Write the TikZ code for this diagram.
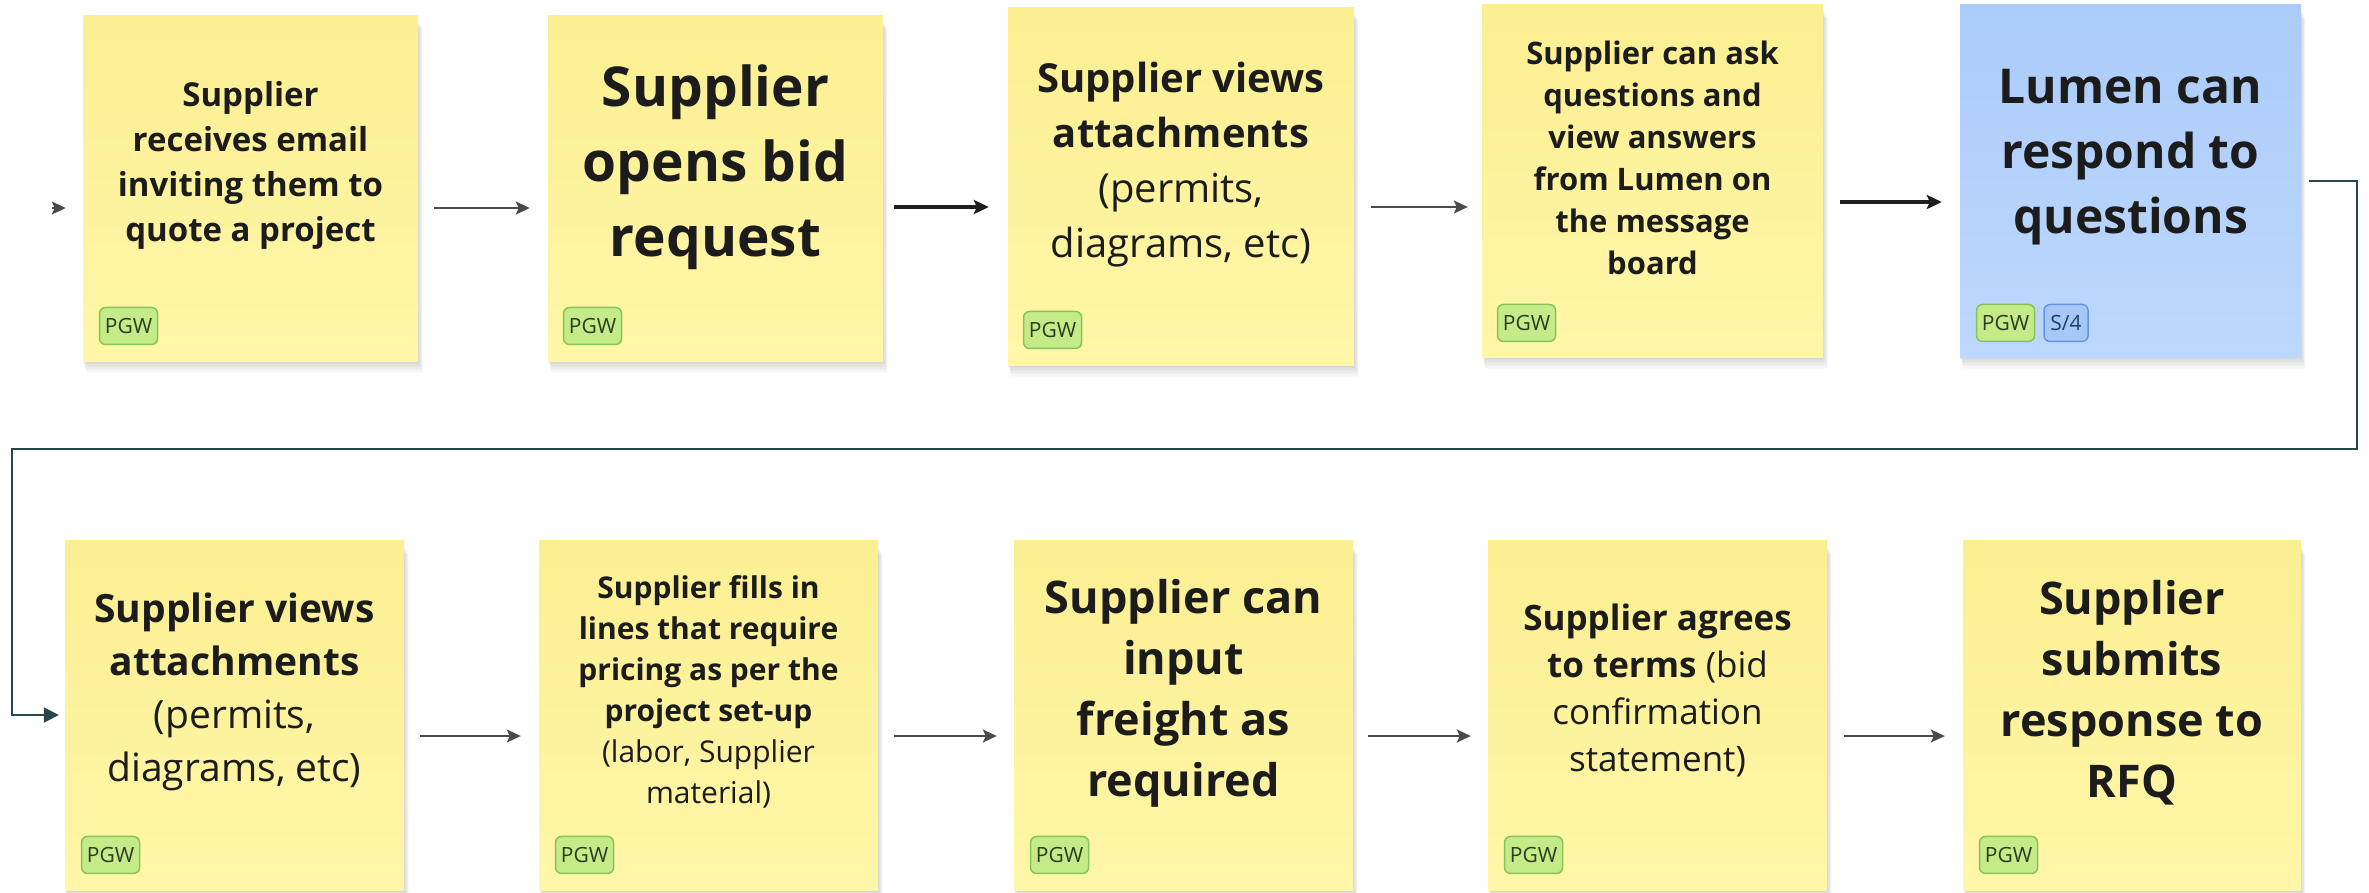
\documentclass[tikz,border=0pt]{standalone}
\usepackage{fontspec}
\setmainfont{Open Sans}
\usetikzlibrary{arrows.meta,calc}

\pgfdeclarelayer{background}
\pgfsetlayers{background,main}

\definecolor{stickyTop}{HTML}{FBEF92}
\definecolor{stickyBot}{HTML}{FFF6A8}
\definecolor{blueTop}{HTML}{ABCBF9}
\definecolor{blueBot}{HTML}{BDD8FD}
\definecolor{tagGreen}{HTML}{C4EB88}
\definecolor{tagGreenLine}{HTML}{86C45A}
\definecolor{tagGreenInk}{HTML}{2E3B22}
\definecolor{tagBlue}{HTML}{A7C8F7}
\definecolor{tagBlueLine}{HTML}{6396E2}
\definecolor{tagBlueInk}{HTML}{1E3C74}
\definecolor{ink}{HTML}{1C1C1C}
\definecolor{arrowGray}{HTML}{4A4A4A}
\definecolor{arrowDark}{HTML}{1E1E1E}
\definecolor{loopTeal}{HTML}{27464A}

\tikzset{
  sticky/.style={rectangle, inner sep=0pt, top color=stickyTop, bottom color=stickyBot},
  bluesticky/.style={sticky, top color=blueTop, bottom color=blueBot},
  softshadow/.style={fill=black, opacity=0.018},
  notetext/.style={align=center, text=ink, inner sep=0pt},
  tagbox/.style={rectangle, rounded corners=6pt, minimum height=37pt, inner sep=0pt,
    line width=1.5pt, font=\fontsize{21}{21}\selectfont, anchor=south west},
  greentag/.style={tagbox, minimum width=58pt, fill=tagGreen, draw=tagGreenLine, text=tagGreenInk},
  bluetag/.style={tagbox, minimum width=44pt, fill=tagBlue, draw=tagBlueLine, text=tagBlueInk},
  arr/.style={draw=arrowGray, line width=2pt, -{Stealth[length=14pt,width=13pt,inset=3pt]}},
  boldarr/.style={draw=arrowDark, line width=3.2pt, -{Stealth[length=15pt,width=14pt,inset=3pt]}},
  looparr/.style={draw=loopTeal, line width=2pt, -{Triangle[length=15pt,width=15pt]}}
}

\begin{document}
\begin{tikzpicture}[x=1pt,y=-1pt]
\useasboundingbox (0,0) rectangle (2369,892);
\begin{pgfonlayer}{background}
  \fill[white] (0,0) rectangle (2369,892);
\end{pgfonlayer}

% ---- top row of sticky notes ----
\node[sticky, minimum width=335pt, minimum height=346pt] (n1) at (250.5,188) {};
\node[sticky, minimum width=335pt, minimum height=346pt] (n2) at (715.5,188) {};
\node[sticky, minimum width=346pt, minimum height=358pt] (n3) at (1181,186) {};
\node[sticky, minimum width=341pt, minimum height=353pt] (n4) at (1652.5,180.5) {};
\node[bluesticky, minimum width=341pt, minimum height=353pt] (n5) at (2130.5,180.5) {};

% ---- bottom row of sticky notes ----
\node[sticky, minimum width=339pt, minimum height=350pt] (n6) at (234.5,715) {};
\node[sticky, minimum width=339pt, minimum height=350pt] (n7) at (708.5,715) {};
\node[sticky, minimum width=339pt, minimum height=350pt] (n8) at (1183.5,715) {};
\node[sticky, minimum width=339pt, minimum height=350pt] (n9) at (1657.5,715) {};
\node[sticky, minimum width=338pt, minimum height=350pt] (n10) at (2132,715) {};

% soft drop shadows under every note, built from stacked translucent layers
\begin{pgfonlayer}{background}
  \foreach \n in {n1,n2,n3,n4,n5,n6,n7,n8,n9,n10} {
    \foreach \k in {1,...,8} {
      \fill[softshadow] ($(\n.north west)+(\k*0.4,6+\k)$) rectangle ($(\n.south east)+(\k*0.6,\k*1.5)$);
    }
  }
\end{pgfonlayer}

% ---- note texts ----
\node[notetext, font=\fontsize{33}{45}\selectfont\bfseries] (t1) at (250.5,165)
  {Supplier\\receives email\\inviting them to\\quote a project};
\node[notetext, font=\fontsize{55}{75}\selectfont\bfseries] (t2) at (715.5,167)
  {Supplier\\opens bid\\request};
\node[notetext, font=\fontsize{40}{55}\selectfont] (t3) at (1181,165)
  {\textbf{Supplier views}\\\textbf{attachments}\\(permits,\\diagrams, etc)};
\node[notetext, font=\fontsize{31}{42}\selectfont\bfseries] (t4) at (1652.5,158)
  {Supplier can ask\\questions and\\view answers\\from Lumen on\\the message\\board};
\node[notetext, font=\fontsize{48}{65}\selectfont\bfseries] (t5) at (2130.5,157)
  {Lumen can\\respond to\\questions};
\node[notetext, font=\fontsize{39}{53}\selectfont] (t6) at (234.5,692)
  {\textbf{Supplier views}\\\textbf{attachments}\\(permits,\\diagrams, etc)};
\node[notetext, font=\fontsize{30}{41}\selectfont] (t7) at (708.5,692)
  {\textbf{Supplier fills in}\\\textbf{lines that require}\\\textbf{pricing as per the}\\\textbf{project set-up}\\(labor, Supplier\\material)};
\node[notetext, font=\fontsize{45}{61}\selectfont\bfseries] (t8) at (1183.5,693)
  {Supplier can\\input\\freight as\\required};
\node[notetext, font=\fontsize{35}{47}\selectfont] (t9) at (1657.5,690)
  {\textbf{Supplier agrees}\\\textbf{to terms} (bid\\confirmation\\statement)};
\node[notetext, font=\fontsize{45}{61}\selectfont\bfseries] (t10) at (2132,693)
  {Supplier\\submits\\response to\\RFQ};

% ---- tags ----
\node[greentag] (g1) at ($(n1.south west)+(16,-16)$) {PGW};
\node[greentag] (g2) at ($(n2.south west)+(15,-16)$) {PGW};
\node[greentag] (g3) at ($(n3.south west)+(15,-16)$) {PGW};
\node[greentag] (g4) at ($(n4.south west)+(15,-15)$) {PGW};
\node[greentag] (g5) at ($(n5.south west)+(16,-15)$) {PGW};
\node[bluetag] (b5) at ($(g5.south east)+(8,0)$) {S/4};
\node[greentag] (g6) at ($(n6.south west)+(16,-16)$) {PGW};
\node[greentag] (g7) at ($(n7.south west)+(16,-16)$) {PGW};
\node[greentag] (g8) at ($(n8.south west)+(16,-16)$) {PGW};
\node[greentag] (g9) at ($(n9.south west)+(16,-16)$) {PGW};
\node[greentag] (g10) at ($(n10.south west)+(16,-16)$) {PGW};

% ---- connectors, top row ----
\coordinate (entry) at (52,208);
\draw[arr] (entry) -- ($(n1.west)+(-17,20)$);
\draw[arr] ($(n1.east)+(16,20)$) -- ($(n2.west)+(-18,20)$);
\draw[boldarr] ($(n2.east)+(11,19)$) -- ($(n3.west)+(-19,21)$);
\draw[arr] ($(n3.east)+(17,21)$) -- ($(n4.west)+(-14,26.5)$);
\draw[boldarr] ($(n4.east)+(17,21.5)$) -- ($(n5.west)+(-18,21.5)$);

% ---- wrap-around from the end of the top row to the bottom row ----
\coordinate (wrapR) at (2357,449);
\coordinate (wrapL) at (12,449);
\draw[looparr] ([xshift=8pt]n5.east) -| (wrapR) -- (wrapL) |- ([xshift=-6pt]n6.west);

% ---- connectors, bottom row ----
\draw[arr] ($(n6.east)+(16,21)$) -- ($(n7.west)+(-18,21)$);
\draw[arr] ($(n7.east)+(16,21)$) -- ($(n8.west)+(-17,21)$);
\draw[arr] ($(n8.east)+(15,21)$) -- ($(n9.west)+(-17,21)$);
\draw[arr] ($(n9.east)+(17,21)$) -- ($(n10.west)+(-18,21)$);
\end{tikzpicture}
\end{document}
